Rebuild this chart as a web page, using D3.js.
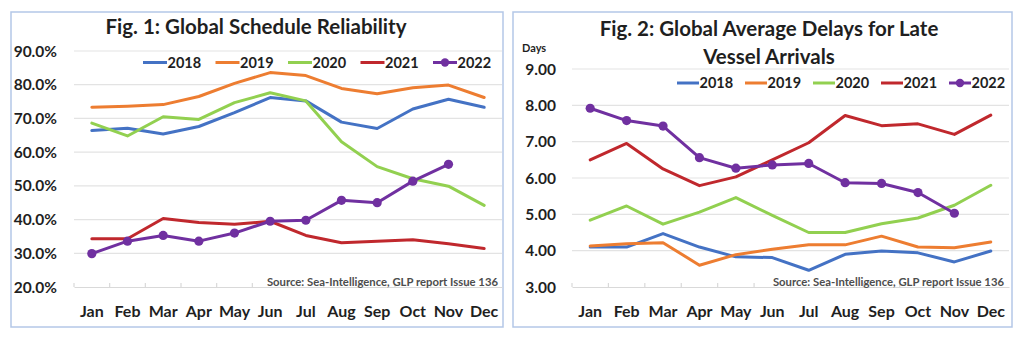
<!DOCTYPE html>
<html>
<head>
<meta charset="utf-8">
<script src="https://cdn.jsdelivr.net/npm/d3@7"></script>
<style>
  html, body { margin: 0; padding: 0; background: #fff; }
  svg { display: block; font-family: Lato, "Open Sans", sans-serif; }
</style>
</head>
<body>
<svg id="chart" width="1024" height="344"></svg>
<script>
// Months shared by both figures
const months = ["Jan","Feb","Mar","Apr","May","Jun","Jul","Aug","Sep","Oct","Nov","Dec"];
const years = ["2018","2019","2020","2021","2022"];
const yearColors = ["#4472C4","#ED7D31","#92D050","#C0282D","#7030A0"];

// Fig. 1: schedule reliability (%)
const rel2018 = [66.4, 67.1, 65.4, 67.6, 71.7, 76.2, 75.2, 68.9, 67.0, 72.8, 75.7, 73.3];
const rel2019 = [73.3, 73.6, 74.1, 76.5, 80.4, 83.6, 82.7, 78.9, 77.3, 79.1, 79.9, 76.2];
const rel2020 = [68.6, 64.8, 70.5, 69.7, 74.7, 77.6, 75.2, 63.1, 55.7, 52.1, 49.9, 44.2];
const rel2021 = [34.3, 34.3, 40.3, 39.1, 38.6, 39.5, 35.3, 33.1, 33.6, 34.0, 32.8, 31.4];
const rel2022 = [29.9, 33.6, 35.3, 33.6, 36.0, 39.5, 39.8, 45.7, 45.0, 51.4, 56.4, null];
const relTicks = [20, 30, 40, 50, 60, 70, 80, 90];

// Fig. 2: average delay for late vessel arrivals (days)
const del2018 = [4.10, 4.10, 4.47, 4.10, 3.83, 3.81, 3.46, 3.90, 3.99, 3.94, 3.69, 3.99];
const del2019 = [4.13, 4.19, 4.22, 3.60, 3.89, 4.04, 4.16, 4.16, 4.40, 4.10, 4.08, 4.24];
const del2020 = [4.84, 5.23, 4.73, 5.06, 5.46, 4.97, 4.50, 4.50, 4.74, 4.90, 5.25, 5.80];
const del2021 = [6.50, 6.95, 6.25, 5.79, 6.03, 6.50, 6.97, 7.72, 7.44, 7.49, 7.20, 7.73];
const del2022 = [7.92, 7.58, 7.43, 6.56, 6.27, 6.36, 6.40, 5.87, 5.85, 5.60, 5.03, null];
const delTicks = [3, 4, 5, 6, 7, 8, 9];

const sourceNote = "Source: Sea-Intelligence, GLP report Issue 136";

const svg = d3.select("#chart");
const ink = "#1f1f1f";

function drawPanel(cfg) {
  const g = svg.append("g");

  // panel frame
  g.append("rect")
    .attr("x", cfg.frame[0]).attr("y", cfg.frame[1])
    .attr("width", cfg.frame[2]).attr("height", cfg.frame[3])
    .attr("fill", "#fff").attr("stroke", "#B4C7E7").attr("stroke-width", 1.5);

  const x = d3.scaleBand().domain(months).range(cfg.xRange);
  const y = d3.scaleLinear().domain(cfg.yDomain).range(cfg.yRange);

  // horizontal gridlines
  g.append("g").selectAll("line")
    .data(cfg.ticks.slice(1))
    .join("line")
    .attr("x1", cfg.xRange[0]).attr("x2", cfg.xRange[1])
    .attr("y1", d => y(d)).attr("y2", d => y(d))
    .attr("stroke", "#E3E3E3").attr("stroke-width", 1.2);

  // y-axis labels
  g.append("g").selectAll("text")
    .data(cfg.ticks)
    .join("text")
    .attr("x", cfg.yLabelX).attr("y", d => y(d))
    .attr("dy", "0.36em")
    .attr("text-anchor", "end")
    .attr("font-size", 15.5).attr("font-weight", 700).attr("fill", ink)
    .text(cfg.fmt);

  // category axis with inward tick marks between months
  const xAxis = d3.axisTop(x).tickSizeInner(0).tickSizeOuter(0).tickFormat("");
  const axG = g.append("g").attr("transform", `translate(0,${y(cfg.yDomain[0])})`).call(xAxis);
  axG.select(".domain").attr("stroke", "#D9D9D9").attr("stroke-width", 1.2);
  axG.selectAll(".tick").remove();
  const bounds = months.map(m => x(m));
  axG.selectAll("line.sep")
    .data(bounds)
    .join("line").attr("class", "sep")
    .attr("x1", d => d).attr("x2", d => d)
    .attr("y1", 0).attr("y2", -4)
    .attr("stroke", "#D9D9D9").attr("stroke-width", 1.2);

  // month labels
  g.append("g").selectAll("text")
    .data(months)
    .join("text")
    .attr("x", d => x(d) + x.bandwidth() / 2)
    .attr("y", 317)
    .attr("text-anchor", "middle")
    .attr("font-size", 16).attr("font-weight", 700).attr("fill", ink)
    .text(d => d);

  // title
  const t = g.append("text")
    .attr("text-anchor", "middle")
    .attr("font-size", 20.5).attr("font-weight", 700).attr("fill", ink);
  cfg.title.forEach((line, i) => {
    t.append("tspan").attr("x", cfg.titleX).attr("y", cfg.titleY + i * 28).text(line);
  });

  // source note
  g.append("text")
    .attr("x", cfg.sourceX).attr("y", cfg.sourceY)
    .attr("text-anchor", "end")
    .attr("font-size", 11.3).attr("font-weight", 700).attr("fill", "#4d4d4d")
    .text(sourceNote);

  // series lines
  const line = d3.line()
    .defined(d => d != null)
    .x((d, i) => x(months[i]) + x.bandwidth() / 2)
    .y(d => y(d));

  cfg.series.forEach((vals, k) => {
    g.append("path")
      .datum(vals)
      .attr("fill", "none")
      .attr("stroke", yearColors[k])
      .attr("stroke-width", 3)
      .attr("stroke-linejoin", "round")
      .attr("stroke-linecap", "round")
      .attr("d", line);
  });

  // markers on the 2022 series
  const last = cfg.series[4];
  g.append("g").selectAll("circle")
    .data(last.map((v, i) => ({ v, i })).filter(d => d.v != null))
    .join("circle")
    .attr("cx", d => x(months[d.i]) + x.bandwidth() / 2)
    .attr("cy", d => y(d.v))
    .attr("r", 4.6)
    .attr("fill", yearColors[4]);

  // legend
  const lg = g.append("g");
  years.forEach((yr, k) => {
    const lx = cfg.legendX + k * cfg.legendStep;
    lg.append("line")
      .attr("x1", lx).attr("x2", lx + cfg.legendLine)
      .attr("y1", cfg.legendY).attr("y2", cfg.legendY)
      .attr("stroke", yearColors[k]).attr("stroke-width", 3);
    if (k === 4) {
      lg.append("circle").attr("cx", lx + cfg.legendLine / 2).attr("cy", cfg.legendY)
        .attr("r", 4.2).attr("fill", yearColors[k]);
    }
    lg.append("text")
      .attr("x", lx + cfg.legendLine + 0.5).attr("y", cfg.legendY)
      .attr("dy", "0.36em")
      .attr("font-size", 14.5).attr("font-weight", 700).attr("fill", ink)
      .text(yr);
  });

  if (cfg.unit) {
    g.append("text")
      .attr("x", cfg.unit.x).attr("y", cfg.unit.y)
      .attr("font-size", 11).attr("font-weight", 700).attr("fill", ink)
      .text(cfg.unit.text);
  }
}

drawPanel({
  frame: [11, 12, 492, 315],
  xRange: [74, 502],
  yDomain: [20, 90],
  yRange: [287, 51],
  ticks: relTicks,
  fmt: d => d.toFixed(1) + "%",
  yLabelX: 57,
  title: ["Fig. 1: Global Schedule Reliability"],
  titleX: 256, titleY: 34,
  sourceX: 498, sourceY: 286,
  series: [rel2018, rel2019, rel2020, rel2021, rel2022],
  legendX: 143, legendStep: 72.5, legendLine: 24, legendY: 62.5
});

drawPanel({
  frame: [513, 12, 499, 315],
  xRange: [572, 1009],
  yDomain: [3, 9],
  yRange: [287, 69],
  ticks: delTicks,
  fmt: d => d.toFixed(2),
  yLabelX: 556,
  title: ["Fig. 2: Global Average Delays for Late", "Vessel Arrivals"],
  titleX: 769, titleY: 36,
  sourceX: 1004, sourceY: 286,
  series: [del2018, del2019, del2020, del2021, del2022],
  legendX: 677, legendStep: 68, legendLine: 22, legendY: 83,
  unit: { text: "Days", x: 522, y: 52 }
});
</script>
</body>
</html>
